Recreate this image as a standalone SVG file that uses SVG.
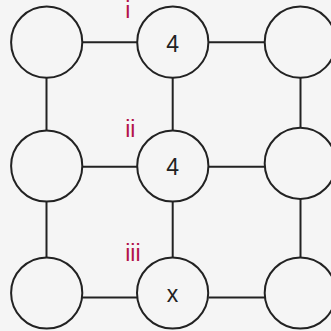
<svg xmlns="http://www.w3.org/2000/svg" width="331" height="331" viewBox="0 0 331 331">
<style>
.n{fill:none;stroke:#222;stroke-width:2}
.c line{stroke:#222;stroke-width:2}
.v{font-family:"Liberation Sans",Arial,sans-serif;font-size:23px;fill:#222;text-anchor:middle}
.l{font-family:"Liberation Sans",Arial,sans-serif;font-size:23px;fill:#b3134a}
</style>
<rect width="331" height="331" fill="#f5f5f5"/>
<g id="connectors" class="c">
<line x1="82" y1="42.3" x2="137.5" y2="42.3"/>
<line x1="208.5" y1="42.3" x2="265" y2="42.3"/>
<line x1="82" y1="166.7" x2="137.5" y2="166.7"/>
<line x1="208.5" y1="166.7" x2="265" y2="166.7"/>
<line x1="82" y1="297.5" x2="137.5" y2="297.5"/>
<line x1="208.5" y1="297.5" x2="265" y2="297.5"/>
<line x1="46.5" y1="78" x2="46.5" y2="130.5"/>
<line x1="46.5" y1="202" x2="46.5" y2="257.5"/>
<line x1="172.7" y1="78" x2="172.7" y2="130.5"/>
<line x1="172.7" y1="202" x2="172.7" y2="257.5"/>
<line x1="300.5" y1="78" x2="300.5" y2="128"/>
<line x1="300.5" y1="199" x2="300.5" y2="257.5"/>
</g>
<g id="n11"><circle class="n" cx="46.7" cy="42.2" r="35.6"/></g>
<g id="n12"><circle class="n" cx="172.8" cy="42.2" r="35.6"/><text class="v" x="172.6" y="51.6">4</text></g>
<g id="n13"><circle class="n" cx="300.3" cy="42.2" r="35.6"/></g>
<g id="n21"><circle class="n" cx="46.7" cy="166" r="35.6"/></g>
<g id="n22"><circle class="n" cx="172.8" cy="166" r="35.6"/><text class="v" x="172.6" y="175.3">4</text></g>
<g id="n23"><circle class="n" cx="300.3" cy="163.4" r="35.6"/></g>
<g id="n31"><circle class="n" cx="46.7" cy="293" r="35.6"/></g>
<g id="n32"><circle class="n" cx="172.6" cy="293" r="35.6"/><text class="v" x="172.6" y="301.6">x</text></g>
<g id="n33"><circle class="n" cx="300.3" cy="293" r="35.6"/></g>
<g id="labels">
<text class="l" x="125.2" y="18.3">i</text>
<text class="l" x="125.2" y="136.7">ii</text>
<text class="l" x="125.2" y="260.7">iii</text>
</g>
</svg>
